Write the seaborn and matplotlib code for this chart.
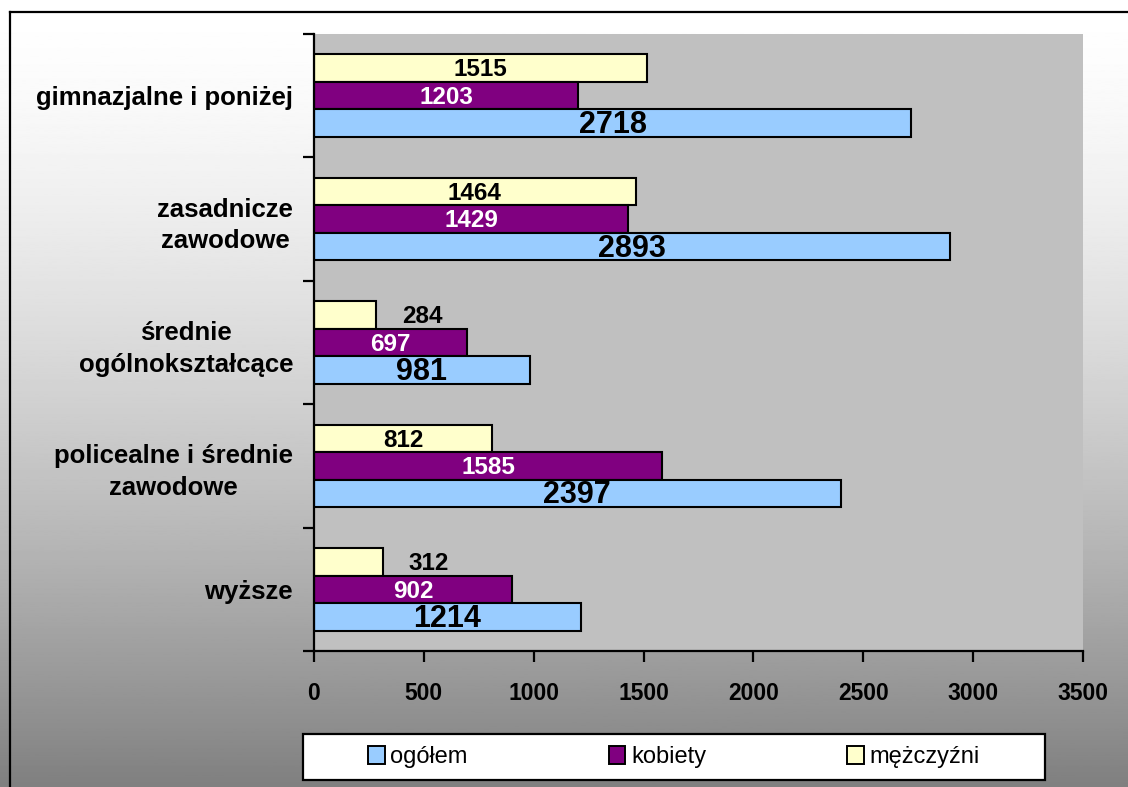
import numpy as np
import pandas as pd
import matplotlib
matplotlib.use("Agg")
import matplotlib.pyplot as plt
import seaborn as sns
from matplotlib.patches import Rectangle, Patch
from matplotlib.lines import Line2D

# ---- data ----
categories = ["gimnazjalne i poniżej", "zasadnicze\nzawodowe", "średnie\nogólnokształcące",
              "policealne i średnie\nzawodowe", "wyższe"]
ogolem = [2718, 2893, 981, 2397, 1214]
kobiety = [1203, 1429, 697, 1585, 902]
mezczyzni = [1515, 1464, 284, 812, 312]
series_names = ["ogółem", "kobiety", "mężczyźni"]
series_colors = ["#99CCFF", "#800080", "#FFFFCC"]
x_ticks = [0, 500, 1000, 1500, 2000, 2500, 3000, 3500]

plt.rcParams['font.family'] = ['Liberation Sans', 'DejaVu Sans']

W, H = 1128, 787
fig = plt.figure(figsize=(W / 100, H / 100), dpi=100)

# gradient background
bg = fig.add_axes([0, 0, 1, 1], zorder=-10)
t = np.linspace(0, 1, 512)
vals = 1 - 0.5 * t ** 1.5
bg.imshow(vals[:, None], cmap='gray', vmin=0, vmax=1, aspect='auto', extent=[0, 1, 0, 1])
bg.set_axis_off()

# outer border (top and left visible)
fig.add_artist(Line2D([10 / W, 10 / W], [0, 1 - 12 / H], color='black', lw=1.6, transform=fig.transFigure))
fig.add_artist(Line2D([10 / W, 1], [1 - 12 / H, 1 - 12 / H], color='black', lw=1.6, transform=fig.transFigure))

# long-form data
rows = []
for name, vals_s in zip(series_names, [ogolem, kobiety, mezczyzni]):
    for c, v in zip(categories, vals_s):
        rows.append({"cat": c, "series": name, "value": v})
df = pd.DataFrame(rows)

ax = fig.add_axes([314 / W, 1 - 651 / H, (1083 - 314) / W, (651 - 34) / H])
ax.set_facecolor("#C0C0C0")
hue_order = ["mężczyźni", "kobiety", "ogółem"]
palette = dict(zip(series_names, series_colors))
sns.barplot(data=df, y="cat", x="value", hue="series", hue_order=hue_order, order=categories,
            palette=palette, orient="h", width=0.67, edgecolor="black", linewidth=1.5,
            saturation=1, ax=ax, legend=False)

ax.set_xlim(0, 3500)
ax.set_ylim(4.5, -0.5)
ax.grid(False)
ax.set_xlabel("")
ax.set_ylabel("")
for s in ["top", "right"]:
    ax.spines[s].set_visible(False)
for s in ["left", "bottom"]:
    ax.spines[s].set_color("black")
    ax.spines[s].set_linewidth(1.6)

ax.set_xticks(x_ticks)
ax.set_xticklabels([str(v) for v in x_ticks], fontsize=16.5, fontweight="bold")
ax.tick_params(axis="x", length=8, width=1.6, direction="out", pad=14, colors="black")

ax.set_yticks(np.arange(-0.5, len(categories), 1.0))
ax.set_yticklabels([])
ax.set_yticks(range(len(categories)), minor=True)
ax.set_yticklabels(categories, minor=True, fontsize=18.5, fontweight="bold",
                   multialignment="center", linespacing=1.4)
ax.tick_params(axis="y", which="major", length=8, width=1.6, direction="out")
ax.tick_params(axis="y", which="minor", length=0, pad=15)

# value labels
label_style = {
    "ogółem": dict(color="black", fontsize=22),
    "kobiety": dict(color="white", fontsize=17.5),
    "mężczyźni": dict(color="black", fontsize=17.5),
}
for name, cont in zip(hue_order, ax.containers):
    for p in cont.patches:
        w = p.get_width()
        yc = p.get_y() + p.get_height() / 2
        xpos = w + 210 if w < 400 else w / 2
        ax.text(xpos, yc + 0.015, f"{int(round(w))}", ha="center", va="center",
                fontweight="bold", **label_style[name])

# legend
fig.add_artist(Rectangle((303 / W, 1 - 780 / H), (1045 - 303) / W, 46 / H,
                         facecolor="white", edgecolor="black", lw=1.6, transform=fig.transFigure))
handles = [Patch(facecolor=c, edgecolor="black", lw=1.4) for c in series_colors]
fig.legend(handles, series_names, ncol=3, loc="center", mode="expand",
           bbox_to_anchor=(368 / W, 1 - 780 / H, (980 - 368) / W, 46 / H),
           frameon=False, fontsize=17, handlelength=0.7, handleheight=0.8,
           handletextpad=0.25, borderpad=0, borderaxespad=0)

fig.savefig("out.png", dpi=100)
